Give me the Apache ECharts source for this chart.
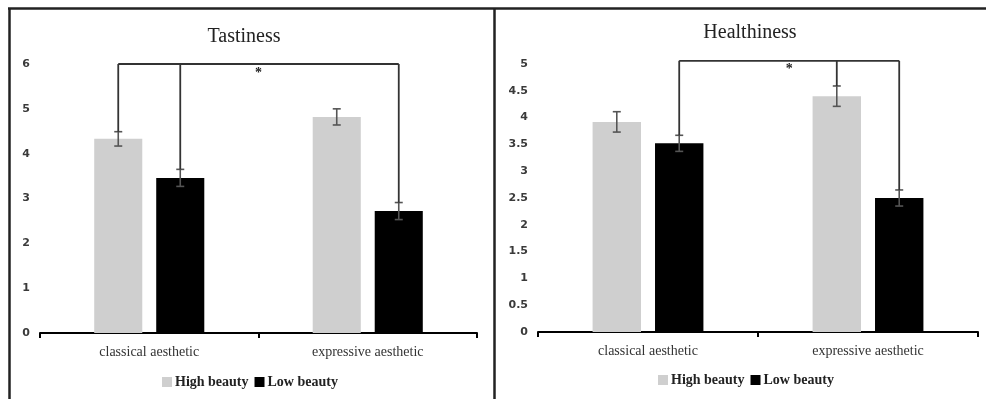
<!DOCTYPE html>
<html>
<head>
<meta charset="utf-8">
<script src="https://cdn.jsdelivr.net/npm/echarts@6/dist/echarts.min.js"></script>
<style>
html,body{margin:0;padding:0;background:#fff;}
#c{width:986px;height:399px;}
</style>
</head>
<body>
<div id="c"></div>
<script>
// ---- data ----
const categories = ['classical aesthetic', 'expressive aesthetic'];
const seriesNames = ['High beauty', 'Low beauty'];

const tasteHigh = [4.33, 4.82];
const tasteLow = [3.46, 2.72];
const tasteHighErr = [0.16, 0.18];
const tasteLowErr = [0.19, 0.19];

const healthHigh = [3.92, 4.40];
const healthLow = [3.52, 2.50];
const healthHighErr = [0.19, 0.19];
const healthLowErr = [0.15, 0.15];

const tasteTicks = { min: 0, max: 6, interval: 1 };
const healthTicks = { min: 0, max: 5, interval: 0.5 };

// significance brackets: legs as [categoryIndex, seriesIndex(0 high,1 low)]
const tasteBracketLevel = 6.0;
const tasteBracketLegs = [[0, 0], [0, 1], [1, 1]];
const healthBracketLevel = 5.06;
const healthBracketLegs = [[0, 1], [1, 0], [1, 1]];

// ---- chart ----
const BAR_W = 0.22, GAP = 0.29;
const chart = echarts.init(document.getElementById('c'));

function offsetFor(api, s) {
  const cw = api.size([1, 0])[0];
  const bw = cw * BAR_W;
  const off = (bw + bw * GAP) / 2;
  return s === 0 ? -off : off;
}

function errData(vals, errs, s) {
  return vals.map((v, i) => [i, v - errs[i], v + errs[i], s]);
}

function errRender(params, api) {
  const c = api.value(0), lo = api.value(1), hi = api.value(2), s = api.value(3);
  const p1 = api.coord([c, lo]);
  const p2 = api.coord([c, hi]);
  const x = p1[0] + offsetFor(api, s);
  const cap = 4;
  const st = { stroke: '#555', lineWidth: 1.6 };
  return {
    type: 'group',
    children: [
      { type: 'line', shape: { x1: x, y1: p1[1], x2: x, y2: p2[1] }, style: st },
      { type: 'line', shape: { x1: x - cap, y1: p1[1], x2: x + cap, y2: p1[1] }, style: st },
      { type: 'line', shape: { x1: x - cap, y1: p2[1], x2: x + cap, y2: p2[1] }, style: st }
    ]
  };
}

function bracketRender(level, legs, vals, errs) {
  return function (params, api) {
    const pts = legs.map(([c, s]) => {
      const bottom = vals[s][c] + errs[s][c];
      const pb = api.coord([c, bottom]);
      const pt = api.coord([c, level]);
      return [pb[0] + offsetFor(api, s), pb[1], pt[1]];
    });
    const st = { stroke: '#333', lineWidth: 1.8 };
    const children = [];
    const xs = pts.map(p => p[0]);
    const xmin = Math.min(...xs), xmax = Math.max(...xs);
    const yTop = pts[0][2];
    children.push({ type: 'line', shape: { x1: xmin, y1: yTop, x2: xmax, y2: yTop }, style: st });
    pts.forEach(p => {
      children.push({ type: 'line', shape: { x1: p[0], y1: yTop, x2: p[0], y2: p[1] }, style: st });
    });
    children.push({
      type: 'text',
      style: { text: '*', x: (xmin + xmax) / 2, y: yTop + 2, textAlign: 'center', textVerticalAlign: 'top',
        font: 'bold 14px "Liberation Serif", serif', fill: '#222' }
    });
    return { type: 'group', children };
  };
}

const xAxisBase = {
  type: 'category',
  data: categories,
  axisLine: { lineStyle: { color: '#000', width: 2 } },
  axisTick: { show: true, length: 5, lineStyle: { color: '#000', width: 2 } },
  axisLabel: { margin: 12, color: '#333', fontFamily: '"Liberation Serif", serif', fontSize: 14 }
};
const yAxisBase = {
  type: 'value',
  axisLine: { show: false },
  axisTick: { show: false },
  splitLine: { show: false },
  axisLabel: { margin: 10, color: '#3a3a3a', fontWeight: 'bold', fontFamily: '"DejaVu Sans", sans-serif', fontSize: 11 }
};

const legendBase = {
  icon: 'rect', itemWidth: 10, itemHeight: 10, itemGap: 6,
  textStyle: { fontFamily: '"Liberation Serif", serif', fontSize: 14, fontWeight: 'bold', color: '#222', padding: [0, 0, 0, -2] },
  data: seriesNames
};

const titleStyle = { fontFamily: '"Liberation Serif", serif', fontSize: 20, fontWeight: 'normal', color: '#222' };

chart.setOption({
  animation: false,
  backgroundColor: '#fff',
  title: [
    { text: 'Tastiness', left: 239, top: 22, textAlign: 'center', textStyle: titleStyle },
    { text: 'Healthiness', left: 745, top: 18, textAlign: 'center', textStyle: titleStyle }
  ],
  legend: [
    Object.assign({ left: 157, top: 370 }, legendBase),
    Object.assign({ left: 653, top: 368 }, legendBase)
  ],
  grid: [
    { left: 40, width: 437, top: 64, height: 269 },
    { left: 538, width: 440, top: 64, height: 268 }
  ],
  xAxis: [
    Object.assign({ gridIndex: 0 }, xAxisBase),
    Object.assign({ gridIndex: 1 }, xAxisBase)
  ],
  yAxis: [
    Object.assign({ gridIndex: 0 }, yAxisBase, tasteTicks),
    Object.assign({ gridIndex: 1 }, yAxisBase, healthTicks)
  ],
  series: [
    { name: seriesNames[0], type: 'bar', xAxisIndex: 0, yAxisIndex: 0, data: tasteHigh, barWidth: '22%', barGap: '29%', itemStyle: { color: '#cfcfcf' } },
    { name: seriesNames[1], type: 'bar', xAxisIndex: 0, yAxisIndex: 0, data: tasteLow, barWidth: '22%', barGap: '29%', itemStyle: { color: '#000' } },
    { name: seriesNames[0], type: 'bar', xAxisIndex: 1, yAxisIndex: 1, data: healthHigh, barWidth: '22%', barGap: '29%', itemStyle: { color: '#cfcfcf' } },
    { name: seriesNames[1], type: 'bar', xAxisIndex: 1, yAxisIndex: 1, data: healthLow, barWidth: '22%', barGap: '29%', itemStyle: { color: '#000' } },
    { type: 'custom', xAxisIndex: 0, yAxisIndex: 0, renderItem: errRender, data: errData(tasteHigh, tasteHighErr, 0), z: 5, clip: false },
    { type: 'custom', xAxisIndex: 0, yAxisIndex: 0, renderItem: errRender, data: errData(tasteLow, tasteLowErr, 1), z: 5, clip: false },
    { type: 'custom', xAxisIndex: 1, yAxisIndex: 1, renderItem: errRender, data: errData(healthHigh, healthHighErr, 0), z: 5, clip: false },
    { type: 'custom', xAxisIndex: 1, yAxisIndex: 1, renderItem: errRender, data: errData(healthLow, healthLowErr, 1), z: 5, clip: false },
    { type: 'custom', xAxisIndex: 0, yAxisIndex: 0, z: 6, clip: false, data: [[0, tasteBracketLevel]],
      renderItem: bracketRender(tasteBracketLevel, tasteBracketLegs, [tasteHigh, tasteLow], [tasteHighErr, tasteLowErr]) },
    { type: 'custom', xAxisIndex: 1, yAxisIndex: 1, z: 6, clip: false, data: [[0, healthBracketLevel]],
      renderItem: bracketRender(healthBracketLevel, healthBracketLegs, [healthHigh, healthLow], [healthHighErr, healthLowErr]) }
  ],
  graphic: [
    { type: 'line', shape: { x1: 8, y1: 8.5, x2: 986, y2: 8.5 }, style: { stroke: '#222', lineWidth: 2.5 } },
    { type: 'line', shape: { x1: 9.5, y1: 8, x2: 9.5, y2: 399 }, style: { stroke: '#222', lineWidth: 2.5 } },
    { type: 'line', shape: { x1: 494.5, y1: 8, x2: 494.5, y2: 399 }, style: { stroke: '#222', lineWidth: 2.5 } }
  ]
});
</script>
</body>
</html>
